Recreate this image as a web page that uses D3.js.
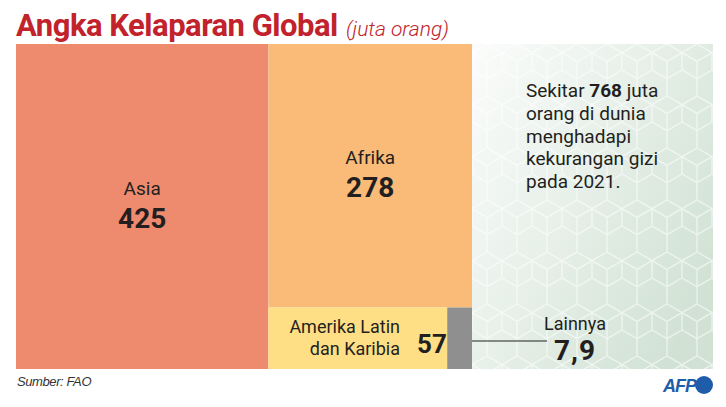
<!DOCTYPE html>
<html><head><meta charset="utf-8">
<script src="https://cdn.jsdelivr.net/npm/d3@7"></script>
<style>body{margin:0;background:#fff}svg{display:block}</style>
</head><body>
<svg id="c" width="726" height="407"></svg>
<script>
const regions = ["Asia", "Afrika", "Amerika Latin dan Karibia", "Lainnya"];
const values = [425, 278, 57, 7.9];
const valueLabels = ["425", "278", "57", "7,9"];
const colors = ["#EE8B6F", "#FBBB78", "#FFDF85", "#8F8F8F"];

const svg = d3.select("#c");
const X0 = 16, Y0 = 44, X1 = 472, Y1 = 369;

// right panel background
const defs = svg.append("defs");
const g1 = defs.append("linearGradient").attr("id","bg").attr("x1","0").attr("y1","0").attr("x2","1").attr("y2","0.7");
g1.append("stop").attr("offset","0").attr("stop-color","#fbfcfb");
g1.append("stop").attr("offset","0.45").attr("stop-color","#e9f1eb");
g1.append("stop").attr("offset","1").attr("stop-color","#d1e2d4");
const pat = defs.append("pattern").attr("id","hex").attr("patternUnits","userSpaceOnUse")
  .attr("width",30).attr("height",52).attr("x",472).attr("y",44);
const hp = "M15 0 L30 8.66 L30 26 L15 34.66 L0 26 L0 8.66 Z M15 34.66 L15 52 M0 8.66 L15 17.33 L30 8.66 M15 17.33 L15 34.66";
pat.append("path").attr("d",hp).attr("fill","none").attr("stroke","#ffffff").attr("stroke-width",1.4).attr("opacity",0.55);
svg.append("rect").attr("x",X1).attr("y",Y0).attr("width",713-X1).attr("height",Y1-Y0).attr("fill","url(#bg)");
svg.append("rect").attr("x",X1).attr("y",Y0).attr("width",713-X1).attr("height",Y1-Y0).attr("fill","url(#hex)");

// treemap
const root = d3.hierarchy({children: regions.map((r,i)=>({name:r, value:values[i], label:valueLabels[i], color:colors[i]}))})
  .sum(d=>d.value||0);
d3.treemap().tile(d3.treemapBinary).size([X1-X0, Y1-Y0])(root);
const leaves = root.leaves();
const g = svg.append("g").attr("transform",`translate(${X0},${Y0})`);
g.selectAll("rect").data(leaves).join("rect")
  .attr("x",d=>d.x0).attr("y",d=>d.y0).attr("width",d=>d.x1-d.x0).attr("height",d=>d.y1-d.y0)
  .attr("fill",d=>d.data.color);

const font = "Roboto, 'Liberation Sans', sans-serif";
const ink = "#231f20";
function big(n){
  const cx = (n.x0+n.x1)/2, cy=(n.y0+n.y1)/2;
  g.append("text").attr("x",cx).attr("y",cy-12).attr("text-anchor","middle")
    .attr("font-family",font).attr("font-size",19).attr("fill",ink).text(n.data.name);
  g.append("text").attr("x",cx).attr("y",cy+21).attr("text-anchor","middle")
    .attr("font-family",font).attr("font-weight","bold").attr("font-size",28).attr("fill",ink).text(n.data.label);
}
big(leaves[0]);
big(leaves[1]);
// Amerika
const am = leaves[2];
const amy = (am.y0+am.y1)/2;
g.append("text").attr("x",384).attr("y",amy-5).attr("text-anchor","end").attr("font-family",font)
  .attr("font-size",18).attr("fill",ink).text("Amerika Latin");
g.append("text").attr("x",384).attr("y",amy+17).attr("text-anchor","end").attr("font-family",font)
  .attr("font-size",18).attr("fill",ink).text("dan Karibia");
g.append("text").attr("x",401).attr("y",amy+15).attr("font-family",font).attr("font-weight","bold")
  .attr("font-size",26).attr("fill",ink).text(am.data.label);
// Lainnya
const ln = leaves[3];
g.append("line").attr("x1",ln.x1).attr("x2",531).attr("y1",297).attr("y2",297).attr("stroke","#222").attr("stroke-width",1.2);
g.append("text").attr("x",559).attr("y",286).attr("text-anchor","middle").attr("font-family",font)
  .attr("font-size",18).attr("fill",ink).text(ln.data.name);
g.append("text").attr("x",559).attr("y",316).attr("text-anchor","middle").attr("font-family",font)
  .attr("font-weight","bold").attr("font-size",28).attr("fill",ink).attr("letter-spacing",1).text(ln.data.label);

// title
svg.append("text").attr("x",16).attr("y",36).attr("font-family","Roboto, sans-serif").attr("fill","#C1222C")
  .attr("font-weight","bold").attr("font-size",31).attr("letter-spacing",-0.5).text("Angka Kelaparan Global");
svg.append("text").attr("x",346).attr("y",36).attr("font-family","Roboto, sans-serif").attr("fill","#C1222C")
  .attr("font-style","italic").attr("font-weight",300).attr("font-size",21).text("(juta orang)");

// annotation
const annoLines = ["Sekitar 768 juta", "orang di dunia", "menghadapi", "kekurangan gizi", "pada 2021."];
annoLines.forEach((l,i)=>{
  const tx = svg.append("text").attr("x",526).attr("y",97+i*22.8).attr("font-family",font).attr("font-size",19).attr("fill",ink);
  if(i===0){
    tx.append("tspan").text("Sekitar ");
    tx.append("tspan").attr("font-weight","bold").text("768");
    tx.append("tspan").text(" juta");
  } else tx.text(l);
});

// source
svg.append("text").attr("x",17).attr("y",386).attr("font-family","'Liberation Sans', Arial, sans-serif")
  .attr("font-style","italic").attr("font-size",13).attr("fill","#333").attr("letter-spacing",-0.4).text("Sumber: FAO");

// AFP logo
svg.append("text").attr("x",663).attr("y",392).attr("font-family","'Liberation Sans', Arial, sans-serif")
  .attr("font-weight","bold").attr("font-style","italic").attr("font-size",18).attr("fill","#1F5CAA").attr("letter-spacing",-1).text("AFP");
svg.append("circle").attr("cx",704).attr("cy",385).attr("r",9).attr("fill","#1F5CAA");
</script>
</body></html>
